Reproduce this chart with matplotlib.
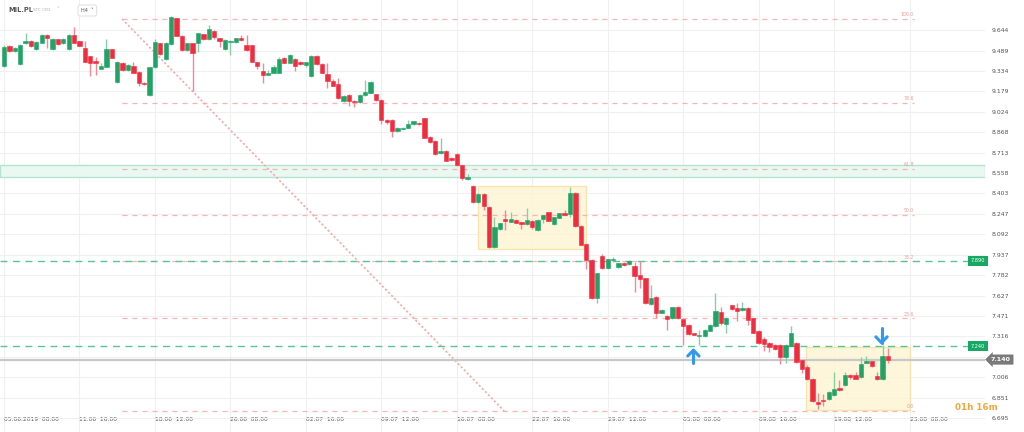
import matplotlib.pyplot as plt
import numpy as np
from matplotlib.patches import Rectangle

# H4 candles of MIL.PL (index 0 = 05.06.2019 08:00)
opens = [9.374, 9.524, 9.488, 9.387, 9.545, 9.560, 9.499, 9.549, 9.610, 9.499,
         9.575, 9.545, 9.499, 9.608, 9.560, 9.507, 9.448, 9.408, 9.352, 9.367,
         9.499, 9.248, 9.397, 9.342, 9.374, 9.329, 9.243, 9.152, 9.362, 9.545,
         9.423, 9.539, 9.735, 9.603, 9.494, 9.545, 9.549, 9.613, 9.575, 9.640,
         9.583, 9.502, 9.552, 9.552, 9.583, 9.532, 9.530, 9.400, 9.336, 9.306,
         9.321, 9.321, 9.430, 9.397, 9.425, 9.402, 9.380, 9.296, 9.448, 9.385,
         9.311, 9.260, 9.235, 9.106, 9.152, 9.106, 9.096, 9.152, 9.170, 9.157,
         9.114, 8.961, 8.961, 8.878, 8.895, 8.903, 8.931, 8.941, 8.975, 8.835,
         8.802, 8.708, 8.726, 8.675, 8.703, 8.617, 8.510, 8.460, 8.336, 8.399,
         8.302, 7.993, 8.130, 8.206, 8.188, 8.201, 8.184, 8.171, 8.193, 8.125,
         8.206, 8.260, 8.171, 8.219, 8.257, 8.247, 8.409, 8.156, 8.019, 7.897,
         7.606, 7.927, 7.834, 7.897, 7.844, 7.872, 7.864, 7.851, 7.783, 7.758,
         7.561, 7.619, 7.497, 7.471, 7.454, 7.542, 7.446, 7.403, 7.339, 7.319,
         7.319, 7.359, 7.395, 7.504, 7.410, 7.552, 7.532, 7.517, 7.532, 7.454,
         7.357, 7.296, 7.268, 7.250, 7.250, 7.157, 7.245, 7.268, 7.134, 7.083,
         6.992, 6.817, 6.832, 6.837, 6.870, 6.921, 6.946, 7.022, 7.020, 7.005,
         7.116, 7.126, 7.017, 6.992, 7.166]
highs = [9.530, 9.532, 9.518, 9.540, 9.621, 9.572, 9.562, 9.618, 9.616, 9.582,
         9.580, 9.585, 9.615, 9.671, 9.565, 9.565, 9.452, 9.438, 9.397, 9.575,
         9.504, 9.408, 9.402, 9.385, 9.405, 9.334, 9.248, 9.367, 9.577, 9.550,
         9.554, 9.752, 9.740, 9.608, 9.550, 9.550, 9.626, 9.618, 9.684, 9.645,
         9.588, 9.575, 9.570, 9.588, 9.608, 9.608, 9.535, 9.405, 9.392, 9.342,
         9.380, 9.440, 9.440, 9.461, 9.430, 9.410, 9.405, 9.456, 9.453, 9.393,
         9.395, 9.270, 9.281, 9.149, 9.157, 9.111, 9.157, 9.266, 9.258, 9.162,
         9.119, 8.966, 8.966, 8.908, 8.908, 8.961, 8.956, 8.946, 8.980, 8.840,
         8.807, 8.827, 8.731, 8.680, 8.708, 8.622, 8.551, 8.465, 8.404, 8.410,
         8.307, 8.222, 8.181, 8.277, 8.264, 8.206, 8.189, 8.290, 8.198, 8.206,
         8.242, 8.265, 8.226, 8.257, 8.277, 8.455, 8.414, 8.161, 8.024, 7.902,
         7.801, 7.943, 7.907, 7.922, 7.877, 7.885, 7.897, 7.880, 7.890, 7.763,
         7.707, 7.624, 7.522, 7.476, 7.542, 7.547, 7.451, 7.408, 7.344, 7.364,
         7.369, 7.408, 7.648, 7.542, 7.461, 7.557, 7.572, 7.580, 7.537, 7.459,
         7.362, 7.314, 7.273, 7.255, 7.255, 7.255, 7.395, 7.273, 7.139, 7.095,
         6.997, 6.888, 6.876, 6.898, 7.048, 6.984, 7.048, 7.027, 7.048, 7.161,
         7.166, 7.131, 7.048, 7.250, 7.225]
lows = [9.368, 9.480, 9.480, 9.380, 9.538, 9.520, 9.494, 9.545, 9.506, 9.494,
        9.534, 9.540, 9.494, 9.545, 9.522, 9.400, 9.296, 9.306, 9.347, 9.362,
        9.430, 9.243, 9.337, 9.337, 9.316, 9.220, 9.228, 9.147, 9.357, 9.458,
        9.418, 9.534, 9.598, 9.489, 9.489, 9.184, 9.481, 9.570, 9.570, 9.580,
        9.519, 9.497, 9.456, 9.547, 9.565, 9.489, 9.400, 9.350, 9.240, 9.301,
        9.316, 9.316, 9.392, 9.392, 9.334, 9.380, 9.363, 9.291, 9.380, 9.316,
        9.207, 9.217, 9.121, 9.101, 9.068, 9.060, 9.091, 9.147, 9.165, 9.109,
        8.930, 8.930, 8.833, 8.873, 8.890, 8.898, 8.926, 8.926, 8.822, 8.787,
        8.696, 8.703, 8.647, 8.652, 8.614, 8.505, 8.505, 8.331, 8.331, 8.277,
        7.988, 7.988, 8.125, 8.125, 8.183, 8.176, 8.130, 8.166, 8.130, 8.120,
        8.176, 8.191, 8.166, 8.214, 8.237, 8.222, 8.151, 8.010, 7.829, 7.601,
        7.568, 7.829, 7.829, 7.892, 7.839, 7.850, 7.859, 7.656, 7.682, 7.563,
        7.556, 7.454, 7.492, 7.364, 7.449, 7.449, 7.250, 7.329, 7.324, 7.250,
        7.314, 7.354, 7.390, 7.403, 7.344, 7.517, 7.436, 7.512, 7.403, 7.339,
        7.258, 7.205, 7.200, 7.215, 7.104, 7.111, 7.240, 7.114, 7.040, 6.987,
        6.817, 6.762, 6.787, 6.832, 6.863, 6.903, 6.941, 6.995, 6.989, 7.000,
        7.111, 7.085, 6.987, 6.987, 7.111]
closes = [9.519, 9.488, 9.511, 9.532, 9.562, 9.527, 9.557, 9.610, 9.583, 9.577,
          9.539, 9.580, 9.610, 9.549, 9.527, 9.405, 9.397, 9.393, 9.372, 9.501,
          9.435, 9.403, 9.342, 9.380, 9.321, 9.241, 9.233, 9.362, 9.552, 9.463,
          9.549, 9.747, 9.603, 9.494, 9.545, 9.473, 9.621, 9.575, 9.651, 9.590,
          9.565, 9.570, 9.565, 9.583, 9.570, 9.494, 9.405, 9.372, 9.301, 9.321,
          9.362, 9.425, 9.397, 9.456, 9.374, 9.387, 9.400, 9.451, 9.385, 9.321,
          9.260, 9.222, 9.126, 9.144, 9.106, 9.096, 9.152, 9.177, 9.253, 9.114,
          8.961, 8.948, 8.878, 8.903, 8.903, 8.931, 8.951, 8.931, 8.827, 8.792,
          8.701, 8.728, 8.652, 8.657, 8.619, 8.518, 8.530, 8.336, 8.399, 8.308,
          7.993, 8.145, 8.176, 8.193, 8.206, 8.181, 8.171, 8.201, 8.145, 8.201,
          8.237, 8.196, 8.221, 8.252, 8.242, 8.409, 8.156, 8.015, 7.897, 7.606,
          7.796, 7.834, 7.902, 7.907, 7.872, 7.859, 7.892, 7.775, 7.750, 7.568,
          7.606, 7.497, 7.517, 7.446, 7.537, 7.454, 7.395, 7.334, 7.329, 7.329,
          7.364, 7.403, 7.509, 7.416, 7.456, 7.522, 7.507, 7.532, 7.440, 7.344,
          7.263, 7.258, 7.238, 7.220, 7.157, 7.250, 7.344, 7.119, 7.071, 6.992,
          6.822, 6.800, 6.822, 6.893, 6.918, 6.908, 7.022, 7.005, 6.994, 7.106,
          7.126, 7.090, 6.992, 7.166, 7.136]

date_ticks = [0, 14, 28, 42, 56, 70, 84, 98, 112, 126, 140, 154, 168]
date_labels = ["05.06.2019  08:00", "11.06  16:00", "18.06  12:00", "26.06  08:00",
               "02.07  16:00", "09.07  12:00", "16.07  08:00", "22.07  16:00",
               "29.07  12:00", "05.08  08:00", "09.08  16:00", "19.08  12:00",
               "23.08  08:00"]
price_ticks = [6.695, 6.851, 7.006, 7.161, 7.316, 7.471, 7.627, 7.782, 7.937, 8.092,
               8.247, 8.403, 8.558, 8.713, 8.868, 9.024, 9.179, 9.334, 9.489, 9.644]

fib_levels = [100.0, 78.6, 61.8, 50.0, 38.2, 23.6, 0.0]
fib_high, fib_low = 9.730, 6.749
fib_x0, fib_x1, fib_diag_x1 = 21.9, 168.8, 92.8

zone = (8.526, 8.619)
boxes = [(88.0, 107.9, 7.979, 8.460), (148.8, 168.0, 6.754, 7.236)]
levels = [7.890, 7.240]
last_price = 7.140
arrow_up = (127.9, 7.114, 7.212)
arrow_down = (162.8, 7.380, 7.268)

GREEN = "#21a366"
RED = "#ef2d3f"

fig = plt.figure(figsize=(10.24, 4.32), dpi=100)
ax = fig.add_axes([0, 0, 985 / 1024, 1])
ax.set_xlim(-0.742, 182.0)
ax.set_ylim(6.5892, 9.8744)
for s in ax.spines.values():
    s.set_visible(False)

# grid + axes labels (the tick hidden under the last-price tag gets no text)
ylabels = ["" if abs(p - last_price) < 0.05 else f"{p:.3f}" for p in price_ticks]
ax.set_yticks(price_ticks, ylabels)
ax.yaxis.tick_right()
ax.tick_params(axis="y", length=0, pad=5, labelsize=4.4, labelcolor="#555555")
ax.set_xticks(date_ticks, date_labels, ha="left")
ax.tick_params(axis="x", length=0, direction="in", pad=-11, labelsize=4.3,
               labelcolor="#555555")
ax.grid(color="#f0f0f0", lw=0.8, zorder=0)
ax.set_axisbelow(True)

# support zone
ax.axhspan(zone[0], zone[1], fc="#e9f8f1", ec="#b5e4cf", lw=1, zorder=1)

# yellow boxes
for x0, x1, y0, y1 in boxes:
    ax.add_patch(Rectangle((x0, y0), x1 - x0, y1 - y0, fc="#fdf4d3", ec="#f3e1a0",
                           lw=1, alpha=0.8, zorder=1))

# fibonacci
for lvl in fib_levels:
    p = fib_low + lvl / 100 * (fib_high - fib_low)
    ax.hlines(p, fib_x0, fib_x1, colors="#f9b3b3", linestyles=(0, (4, 4)), lw=0.9, zorder=2)
    ax.text(fib_x1, p + 0.012, f"{lvl:.1f}", ha="right", va="bottom", fontsize=3.3,
            color="#f29a9a", zorder=2)
ax.plot([fib_x0, fib_diag_x1], [fib_high, fib_low], color="#f6abab",
        ls=(0, (1.3, 1.3)), lw=1.2, zorder=2)

# horizontal levels
for lv in levels:
    ax.axhline(lv, color="#52c896", ls=(0, (5, 4)), lw=1, zorder=2)
    ax.text(1.0, lv, f"{lv:.3f}", transform=ax.get_yaxis_transform(), ha="right",
            va="center", fontsize=3.6, color="white", zorder=6,
            bbox=dict(boxstyle="square,pad=0.5", fc="#16a864", ec="none"))
ax.axhline(last_price, color="#c8c8c8", lw=1.6, zorder=2)
ax.text(1.006, last_price, f"{last_price:.3f}", transform=ax.get_yaxis_transform(),
        ha="left", va="center", fontsize=4.6, color="white", fontweight="bold",
        zorder=7, clip_on=False,
        bbox=dict(boxstyle="larrow,pad=0.4", fc="#7a7a7a", ec="none"))

# candles
o = np.array(opens)
c = np.array(closes)
x = np.arange(len(o))
cols = np.where(c >= o, GREEN, RED)
wick_cols = np.where(c >= o, "#86cfa9", "#f28a96")
ax.vlines(x, lows, highs, colors=wick_cols, lw=1, zorder=3)
ax.bar(x, np.abs(c - o), bottom=np.minimum(o, c), width=0.8, color=cols,
       edgecolor=cols, lw=0.4, zorder=4)

# blue arrows
for (ax_x, y_start, y_tip) in [arrow_up, arrow_down]:
    d = 0.045 if y_tip > y_start else -0.045
    ax.plot([ax_x, ax_x], [y_start, y_tip], color="#3399ee", lw=2.2,
            solid_capstyle="round", zorder=6)
    ax.plot([ax_x - 1.05, ax_x, ax_x + 1.05], [y_tip - d, y_tip, y_tip - d],
            color="#3399ee", lw=2.2, solid_capstyle="round",
            solid_joinstyle="round", zorder=6)

# header
fig.text(8 / 1024, 1 - 10 / 432, "MIL.PL", fontsize=4.8, color="#555555",
         fontweight="bold", va="center")
fig.text(33 / 1024, 1 - 10 / 432, "STC CFD", fontsize=3, color="#aaaaaa", va="center")
fig.text(56 / 1024, 1 - 10 / 432, "˅", fontsize=4, color="#bbbbbb", va="center")
fig.text(81 / 1024, 1 - 10.5 / 432, "H4  ˅", fontsize=3.6, color="#555555", va="center",
         bbox=dict(boxstyle="round,pad=0.6,rounding_size=0.4", fc="white", ec="#e3e3e3",
                   lw=0.8))

fig.text(955 / 1024, 1 - 407 / 432, "01h 16m", fontsize=6.3, color="#f4a640",
         fontweight="bold", va="center")

fig.savefig("out.png", dpi=100)
